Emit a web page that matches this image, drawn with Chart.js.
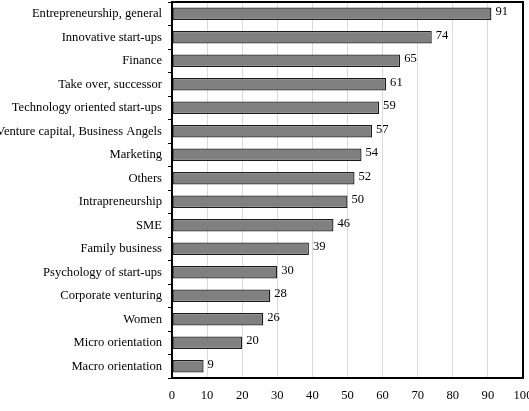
<!DOCTYPE html>
<html>
<head>
<meta charset="utf-8">
<script src="https://cdn.jsdelivr.net/npm/chart.js@4/dist/chart.umd.min.js"></script>
<style>
  html, body { margin: 0; padding: 0; background: #fff; overflow: hidden; width: 529px; height: 411px; }
  #wrap { position: absolute; left: -10px; top: 0; width: 560px; height: 411px; }
</style>
</head>
<body>
<div id="wrap"><canvas id="topicsChart"></canvas></div>
<script>
const topics = [
  "Entrepreneurship, general", "Innovative start-ups", "Finance", "Take over, successor",
  "Technology oriented start-ups", "Venture capital, Business Angels", "Marketing", "Others",
  "Intrapreneurship", "SME", "Family business", "Psychology of start-ups",
  "Corporate venturing", "Women", "Micro orientation", "Macro orientation"
];
const counts = [91, 74, 65, 61, 59, 57, 54, 52, 50, 46, 39, 30, 28, 26, 20, 9];
const xTicks = [0, 10, 20, 30, 40, 50, 60, 70, 80, 90, 100];

const font = { family: "'Liberation Serif', 'DejaVu Serif', serif", size: 12.6 };

// value labels at the bar ends and the black frame
const extras = {
  id: "extras",
  afterDatasetsDraw(chart) {
    const ctx = chart.ctx;
    const meta = chart.getDatasetMeta(0);
    ctx.save();
    ctx.fillStyle = "#000";
    ctx.font = font.size + "px " + font.family;
    ctx.textBaseline = "middle";
    ctx.textAlign = "left";
    meta.data.forEach((bar, i) => {
      ctx.fillText(String(counts[i]), bar.x + 4, bar.y - 2);
    });
    const a = chart.chartArea;
    ctx.strokeStyle = "#000";
    ctx.lineWidth = 2;
    ctx.strokeRect(a.left, a.top, a.right - a.left, a.bottom - a.top);
    ctx.restore();
  }
};

new Chart(document.getElementById("topicsChart"), {
  type: "bar",
  data: {
    labels: topics,
    datasets: [{
      data: counts,
      backgroundColor: "#808080",
      borderColor: "#1a1a1a",
      borderWidth: 1.3,
      borderSkipped: false,
      barPercentage: 0.54,
      categoryPercentage: 1
    }]
  },
  options: {
    indexAxis: "y",
    responsive: true,
    maintainAspectRatio: false,
    animation: false,
    layout: { padding: { top: 2, right: 27, bottom: 0, left: 0 } },
    plugins: { legend: { display: false }, tooltip: { enabled: false } },
    scales: {
      x: {
        min: 0,
        max: 100,
        afterBuildTicks: s => { s.ticks = xTicks.map(v => ({ value: v })); },
        afterFit: s => { s.height = 33; },
        grid: { color: "#dadada", drawTicks: false },
        border: { display: false },
        ticks: { color: "#000", font: font, padding: 10, maxRotation: 0 }
      },
      y: {
        afterFit: s => { s.width = 182; s.paddingTop = 0; s.paddingBottom = 0; },
        grid: { drawOnChartArea: false, offset: true, tickLength: 4, color: "#000" },
        border: { display: false },
        ticks: { color: "#000", font: font, padding: 6 }
      }
    }
  },
  plugins: [extras]
});
</script>
</body>
</html>
